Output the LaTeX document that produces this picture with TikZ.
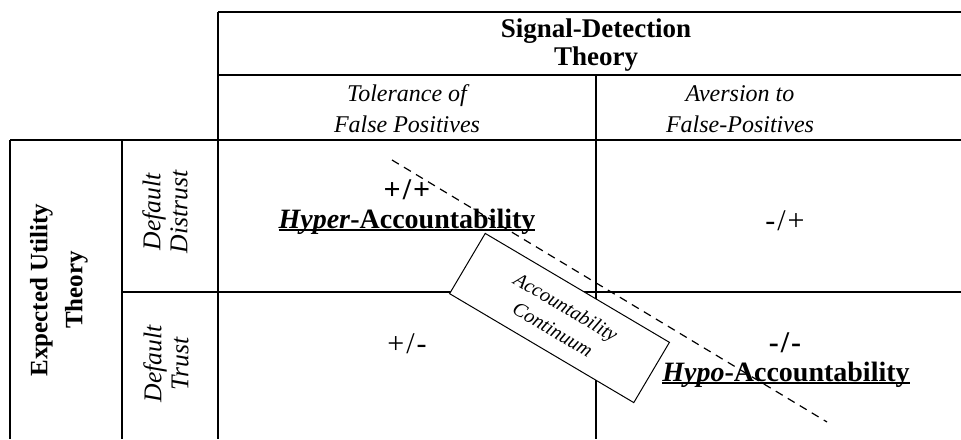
\documentclass[tikz,border=0pt]{standalone}
\usepackage{fontspec}
\setmainfont{Liberation Serif}
\newcommand\ulx[1]{\setbox0\hbox{#1}\rlap{\rule[-1.4pt]{\wd0}{0.8pt}}\box0}
\begin{document}
\begin{tikzpicture}[x=0.5pt,y=-0.5pt,
  grid/.style={line width=0.8pt},
  hdr/.style={font=\fontsize{13.5}{14.2}\selectfont\bfseries, align=center, inner sep=0pt},
  sub/.style={font=\fontsize{12}{15.5}\selectfont\itshape, align=center, inner sep=0pt},
  side/.style={font=\fontsize{12.5}{17.5}\selectfont\bfseries, align=center, inner sep=0pt, rotate=90},
  rowlab/.style={font=\fontsize{12.8}{13.5}\selectfont\itshape, align=center, inner sep=0pt, rotate=90},
  signb/.style={font=\fontsize{15}{15}\selectfont\bfseries, inner sep=0pt},
  signr/.style={font=\fontsize{15}{15}\selectfont, inner sep=0pt},
  acc/.style={font=\fontsize{14}{14}\selectfont\bfseries, inner sep=0pt, anchor=base},
  contbox/.style={draw, line width=0.5pt, fill=white, rotate=-30.6, minimum width=107pt, minimum height=35pt, inner sep=0pt, align=center, font=\fontsize{10}{13}\selectfont\itshape},
  cutline/.style={dashed, dash pattern=on 4pt off 3pt, line width=0.6pt}
]
\useasboundingbox (0,0) rectangle (961,439);
% table lines
\draw[grid] (218,12) -- (961,12);
\draw[grid] (218,75) -- (961,75);
\draw[grid] (10,140) -- (961,140);
\draw[grid] (122,292) -- (961,292);
\draw[grid] (10,140) -- (10,439);
\draw[grid] (122,140) -- (122,439);
\draw[grid] (218,12) -- (218,439);
\draw[grid] (596,75) -- (596,439);
% headers
\node[hdr] (sdt) at (596,45) {Signal-Detection\\Theory};
\node[sub] (tol) at (407,109) {Tolerance of\\False Positives};
\node[sub] (ave) at (740,109) {Aversion to\\False-Positives};
\node[side] (eut) at (59,290) {Expected Utility\\Theory};
\node[rowlab] (dd) at (165,212) {Default\\Distrust};
\node[rowlab] (dt) at (166,364) {Default\\Trust};
% continuum box
\node[contbox] (cont) at (559.5,318) {Accountability\\Continuum};
% cells
\node[signb] (pp) at (407,190) {+\kern1pt/\kern1pt+};
\node[acc] (hyper) at (407,228) {\ulx{\textit{Hyper}-Accountability}};
\node[signr] (mp) at (785,221) {-\kern1pt/\kern1pt+};
\node[signr] (pm) at (407,344) {+\kern1pt/\kern1pt-};
\node[signb] (mm) at (785,343) {-\kern1pt/\kern1pt-};
\node[acc] (hypo) at (786,381) {\ulx{\textit{Hypo}-Accountability}};
% dashed line
\coordinate (d1) at (392,160);
\coordinate (d2) at (827,422);
\draw[cutline] (d1) -- (d2);
\end{tikzpicture}
\end{document}
